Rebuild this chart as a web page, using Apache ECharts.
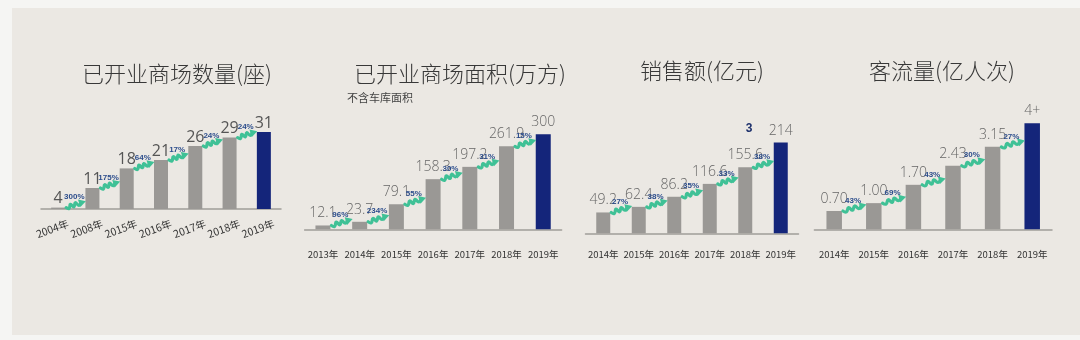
<!DOCTYPE html>
<html>
<head>
<meta charset="utf-8">
<script src="https://cdn.jsdelivr.net/npm/echarts@6/dist/echarts.min.js"></script>
<style>
  html, body { margin: 0; padding: 0; background: #f5f5f3; }
  #chart { width: 1080px; height: 340px; }
</style>
</head>
<body>
<div id="chart"></div>
<script>
// 已开业商场数量(座)
const mallYears = ['2004年', '2008年', '2015年', '2016年', '2017年', '2018年', '2019年'];
const mallCounts = [4, 11, 18, 21, 26, 29, 31];
const mallGrowth = ['300%', '175%', '64%', '17%', '24%', '24%'];

// 已开业商场面积(万方)
const areaYears = ['2013年', '2014年', '2015年', '2016年', '2017年', '2018年', '2019年'];
const areaValues = [12.1, 23.7, 79.1, 158.3, 197.2, 261.9, 300];
const areaGrowth = ['96%', '234%', '55%', '30%', '31%', '15%'];

// 销售额(亿元)
const salesYears = ['2014年', '2015年', '2016年', '2017年', '2018年', '2019年'];
const salesValues = [49.2, 62.4, 86.2, 116.6, 155.6, 214];
const salesGrowth = ['27%', '38%', '35%', '33%', '38%'];

// 客流量(亿人次)
const trafficYears = ['2014年', '2015年', '2016年', '2017年', '2018年', '2019年'];
const trafficValues = [0.70, 1.00, 1.70, 2.43, 3.15, 4.05];
const trafficLabels = ['0.70', '1.00', '1.70', '2.43', '3.15', '4+'];
const trafficGrowth = ['43%', '69%', '43%', '30%', '27%'];

const GRAY = '#9a9895';
const NAVY = '#14257a';
const GREEN = '#3fc196';
const PCT_BLUE = '#2c4d8c';
const NUM_FONT = '"Open Sans", "Noto Sans", sans-serif';
const CJK_FONT = '"Noto Sans CJK SC Light", "Noto Sans CJK SC DemiLight", "Noto Sans CJK SC", "Noto Sans", sans-serif';

const panels = [
  { years: mallYears, values: mallCounts, growth: mallGrowth, labels: null,
    grid: { left: 41, width: 240, top: 132, height: 77 }, min: 3.5, max: 31,
    barW: 14, labelSize: 16, labelColor: '#555', labelWeight: 'normal', labelDist: 1, rotate: true },
  { years: areaYears, values: areaValues, growth: areaGrowth, labels: null,
    grid: { left: 304.6, width: 257, top: 134.3, height: 95 }, min: 0, max: 300,
    barW: 15, labelSize: 14, labelColor: '#666', labelWeight: 300, labelDist: 5, margin: 20 },
  { years: salesYears, values: salesValues, growth: salesGrowth, labels: null,
    grid: { left: 585.5, width: 213, top: 142.6, height: 90.7 }, min: 0, max: 214,
    barW: 14, labelSize: 14, labelColor: '#666', labelWeight: 300, labelDist: 5, margin: 16 },
  { years: trafficYears, values: trafficValues, growth: trafficGrowth, labels: trafficLabels,
    grid: { left: 814.4, width: 237.6, top: 123.3, height: 106 }, min: 0, max: 4.05,
    barW: 15.5, labelSize: 14, labelColor: '#666', labelWeight: 300, labelDist: 5, margin: 20 }
];

// Wavy green growth arrow with its percentage, drawn between two neighbouring bars
function growthArrow(panel) {
  return function (params, api) {
    const i = api.value(0);
    const v = api.value(1);
    const a = api.coord([i, v]);
    const b = api.coord([i + 1, v]);
    const x0 = a[0] + panel.barW / 2 + 1;
    const x1 = b[0] - panel.barW / 2 - 1;
    const y0 = a[1];
    const y1 = y0 - 6;
    const dx = x1 - x0, dy = y1 - y0;
    const len = Math.sqrt(dx * dx + dy * dy);
    const ux = dx / len, uy = dy / len;
    const nx = -uy, ny = ux;
    const shaft = len - 4;
    const pts = [];
    const n = 6;
    for (let k = 0; k <= n; k++) {
      const t = shaft * k / n;
      const off = (k === 0 || k === n) ? 0 : (k % 2 ? 1.8 : -1.8);
      pts.push([x0 + ux * t + nx * off, y0 + uy * t + ny * off]);
    }
    const bx = x0 + ux * shaft, by = y0 + uy * shaft;
    const tip = [x1 + ux * 1.5, y1 + uy * 1.5];
    const head = [tip, [bx - ux * 1.5 + nx * 4, by - uy * 1.5 + ny * 4],
                       [bx - ux * 1.5 - nx * 4, by - uy * 1.5 - ny * 4]];
    return {
      type: 'group',
      children: [
        { type: 'polyline', shape: { points: pts, smooth: 0.5 },
          style: { stroke: GREEN, lineWidth: 3.2, fill: null, lineCap: 'round', lineJoin: 'round' } },
        { type: 'polygon', shape: { points: head }, style: { fill: GREEN } },
        { type: 'text',
          style: { text: panel.growth[params.dataIndex], x: (x0 + x1) / 2 - 1, y: y0 - 10.5,
                   fill: PCT_BLUE, font: 'bold 8px "Liberation Sans", Arial, sans-serif',
                   align: 'center', verticalAlign: 'middle',
                   textAlign: 'center', textVerticalAlign: 'middle' } }
      ]
    };
  };
}

const grids = [], xAxes = [], yAxes = [], series = [];
panels.forEach(function (p, gi) {
  grids.push(Object.assign({ containLabel: false }, p.grid));
  xAxes.push({
    type: 'category', gridIndex: gi, data: p.years,
    axisTick: { show: false },
    axisLine: { lineStyle: { color: '#a09d99', width: 1.5 } },
    axisLabel: p.rotate ? {
      interval: 0, rotate: 20, margin: 12, align: 'center', verticalAlign: 'top',
      padding: [0, 16, 0, 0], fontSize: 10.5, color: '#333', fontFamily: '"Noto Sans CJK SC", sans-serif'
    } : {
      interval: 0, margin: p.margin, fontSize: 9.5, color: '#333', fontFamily: '"Noto Sans CJK SC", sans-serif'
    }
  });
  yAxes.push({ type: 'value', gridIndex: gi, min: p.min, max: p.max, show: false,
               splitLine: { show: false } });
  series.push({
    type: 'bar', xAxisIndex: gi, yAxisIndex: gi, data: p.values, barWidth: p.barW,
    itemStyle: { color: function (d) { return d.dataIndex === p.values.length - 1 ? NAVY : GRAY; } },
    label: {
      show: true, position: 'top', distance: p.labelDist,
      fontSize: p.labelSize, color: p.labelColor, fontFamily: NUM_FONT, fontWeight: p.labelWeight,
      formatter: function (d) { return p.labels ? p.labels[d.dataIndex] : String(d.value); }
    },
    silent: true
  });
  series.push({
    type: 'custom', xAxisIndex: gi, yAxisIndex: gi, clip: false, z: 5,
    data: p.growth.map(function (_, i) { return [i, p.values[i]]; }),
    encode: { x: 0, y: 1 },
    renderItem: growthArrow(p), silent: true
  });
});

function titleText(text, x, y, size) {
  return { type: 'text', x: x, y: y,
    style: { text: text, fill: '#383838', font: '300 ' + size + 'px ' + CJK_FONT,
             align: 'center', verticalAlign: 'middle',
             textAlign: 'center', textVerticalAlign: 'middle' } };
}

const chart = echarts.init(document.getElementById('chart'), null, { renderer: 'canvas' });
chart.setOption({
  backgroundColor: '#f5f5f3',
  animation: false,
  graphic: [
    { type: 'rect', z: -10, shape: { x: 12, y: 8, width: 1068, height: 327 },
      style: { fill: '#ebe8e3' } },
    titleText('已开业商场数量(座)', 177, 74, 22),
    titleText('已开业商场面积(万方)', 460, 74, 22),
    titleText('销售额(亿元)', 702, 71, 22),
    titleText('客流量(亿人次)', 942, 71, 22),
    { type: 'text', x: 347, y: 98,
      style: { text: '不含车库面积', fill: '#444', font: '11px "Noto Sans CJK SC", sans-serif',
               align: 'left', verticalAlign: 'middle', textAlign: 'left', textVerticalAlign: 'middle' } },
    { type: 'text', x: 749, y: 129,
      style: { text: '3', fill: '#1c2f6b', font: 'bold 12px "Liberation Sans", Arial, sans-serif',
               align: 'center', verticalAlign: 'middle', textAlign: 'center', textVerticalAlign: 'middle' } }
  ],
  grid: grids,
  xAxis: xAxes,
  yAxis: yAxes,
  series: series
});
</script>
</body>
</html>
